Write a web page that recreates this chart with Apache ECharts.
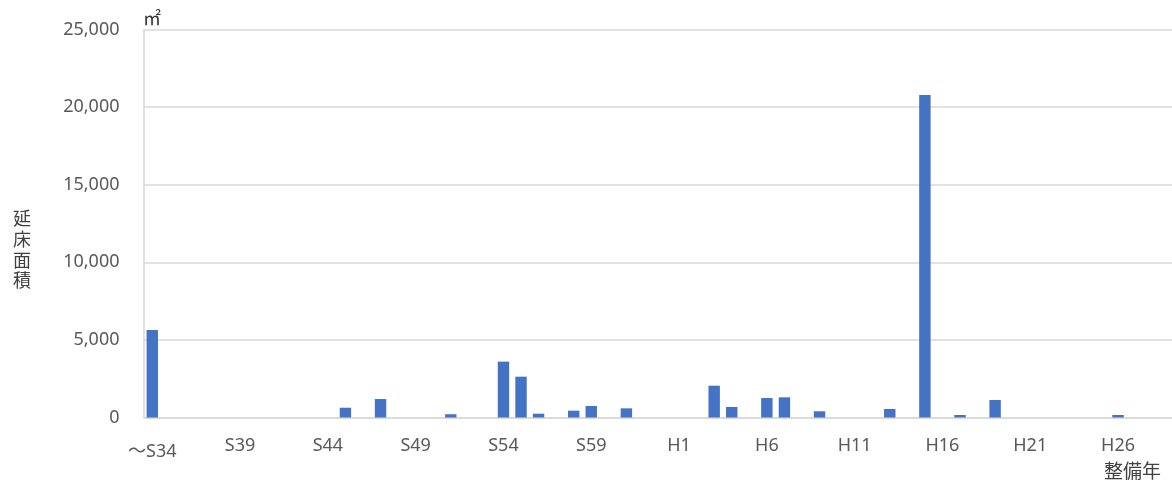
<!DOCTYPE html>
<html>
<head>
<meta charset="utf-8">
<script src="https://cdn.jsdelivr.net/npm/echarts@6/dist/echarts.min.js"></script>
<style>
  html, body { margin: 0; padding: 0; background: #fff; }
  #chart { width: 1172px; height: 486px; }
</style>
</head>
<body>
<div id="chart"></div>
<script>
// 整備年 (S34 and earlier ... H29)
const years = [
    '～S34', 'S35', 'S36', 'S37', 'S38', 'S39', 'S40', 'S41', 'S42', 'S43',
    'S44', 'S45', 'S46', 'S47', 'S48', 'S49', 'S50', 'S51', 'S52', 'S53',
    'S54', 'S55', 'S56', 'S57', 'S58', 'S59', 'S60', 'S61', 'S62', 'S63',
    'H1', 'H2', 'H3', 'H4', 'H5', 'H6', 'H7', 'H8', 'H9', 'H10',
    'H11', 'H12', 'H13', 'H14', 'H15', 'H16', 'H17', 'H18', 'H19', 'H20',
    'H21', 'H22', 'H23', 'H24', 'H25', 'H26', 'H27', 'H28', 'H29'
];

// 延床面積 (㎡)
const floorArea = [
    5640, 0, 0, 0, 0, 0, 0, 0, 0, 0,
    0, 630, 0, 1190, 0, 0, 0, 210, 0, 0,
    3600, 2630, 245, 0, 440, 740, 0, 590, 0, 0,
    0, 0, 2050, 680, 0, 1255, 1300, 0, 400, 0,
    0, 0, 550, 0, 20780, 0, 160, 0, 1130, 0,
    0, 0, 0, 0, 0, 160, 0, 0, 0
];

const yTicks = { min: 0, max: 25000, step: 5000 };

const chart = echarts.init(document.getElementById('chart'));
const labelFont = "'Noto Sans', 'Noto Sans CJK JP', sans-serif";
const jpFont = "'Noto Sans CJK JP', sans-serif";

chart.setOption({
    backgroundColor: '#ffffff',
    animation: false,
    grid: {
        left: 143.5,
        right: -7.5,
        top: 29.5,
        bottom: 68.5,
        containLabel: false,
        outerBoundsMode: 'none'
    },
    xAxis: {
        type: 'category',
        data: years,
        axisTick: { show: false },
        axisLine: {
            lineStyle: { color: '#d9d9d9', width: 1.5 }
        },
        axisLabel: {
            interval: 4,
            color: '#595959',
            fontSize: 18,
            fontFamily: labelFont,
            margin: 19,
            formatter: (value, idx) => idx === 0 ? '{first|' + value + '}' : value,
            rich: {
                first: {
                    color: '#595959',
                    fontSize: 18,
                    fontFamily: labelFont,
                    padding: [6, 0, 0, 0]
                }
            }
        }
    },
    yAxis: {
        type: 'value',
        min: yTicks.min,
        max: yTicks.max,
        interval: yTicks.step,
        axisLine: {
            show: true,
            lineStyle: { color: '#d9d9d9', width: 1.5 }
        },
        axisTick: { show: false },
        axisLabel: {
            color: '#595959',
            fontSize: 18,
            fontFamily: labelFont,
            margin: 24,
            formatter: (value) => value.toLocaleString('en-US')
        },
        splitLine: {
            lineStyle: { color: '#d9d9d9', width: 1.5 }
        }
    },
    series: [
        {
            name: '延床面積',
            type: 'bar',
            data: floorArea,
            barWidth: '65%',
            itemStyle: { color: '#4472c4' }
        }
    ],
    graphic: [
        {
            type: 'text',
            left: 143,
            top: 9,
            style: {
                text: '㎡',
                font: '18px ' + jpFont,
                fill: '#333333'
            }
        },
        {
            type: 'text',
            left: 13,
            top: 208,
            style: {
                text: '延\n床\n面\n積',
                font: '18px ' + jpFont,
                lineHeight: 20.7,
                fill: '#404040'
            }
        },
        {
            type: 'text',
            left: 1104,
            top: 461,
            style: {
                text: '整備年',
                font: '19px ' + jpFont,
                fill: '#404040'
            }
        }
    ]
});

window.addEventListener('resize', () => {
    chart && chart.resize();
});
</script>
</body>
</html>
